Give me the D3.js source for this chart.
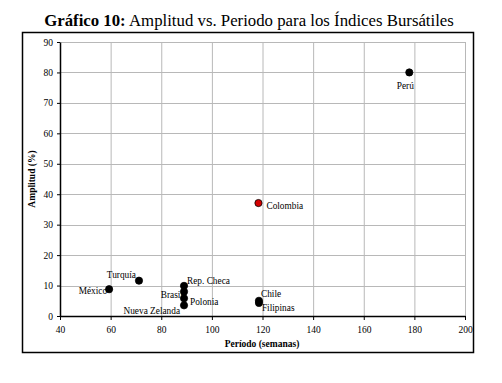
<!DOCTYPE html>
<html><head><meta charset="utf-8">
<script src="https://cdn.jsdelivr.net/npm/d3@7"></script>
<style>body{margin:0;background:#fff}svg{display:block}</style>
</head><body><svg id="c" width="502" height="383"></svg>
<script>
const countries = ["Perú","Colombia","Chile","Filipinas","Turquía","México","Rep. Checa","Brasil","Polonia","Nueva Zelanda"];
const periodo = [178, 118.4, 118.6, 118.6, 71.2, 59.4, 89, 89, 89, 89];
const amplitud = [80, 37.1, 5.0, 4.3, 11.6, 8.8, 9.9, 8.0, 5.8, 3.5];
const xTicks = [40,60,80,100,120,140,160,180,200];
const yTicks = [0,10,20,30,40,50,60,70,80,90];
const highlight = "Colombia";

// label placement (dx, dy, anchor)
const labelPos = {
  "Perú":[-4,14,"middle"], "Colombia":[8,4,"start"], "Chile":[2,-6,"start"],
  "Filipinas":[3,6,"start"], "Turquía":[-3,-5,"end"], "México":[-2,3,"end"],
  "Rep. Checa":[3,-4,"start"], "Brasil":[-1,4,"end"], "Polonia":[6,5,"start"],
  "Nueva Zelanda":[-4,7,"end"]
};

const svg = d3.select("#c");
const font = "Liberation Serif, Times New Roman, serif";
const L=60,R=465,T=42,B=316;
const x = d3.scaleLinear().domain([40,200]).range([L,R]);
const y = d3.scaleLinear().domain([0,90]).range([B,T]);

// title
const title = svg.append("text").attr("x",249).attr("y",26).attr("text-anchor","middle")
  .style("font-family",font).attr("font-size",16.8).attr("fill","#000");
title.append("tspan").attr("font-weight","bold").text("Gráfico 10:");
title.append("tspan").text(" Amplitud vs. Periodo para los Índices Bursátiles");

// outer box
svg.append("rect").attr("x",22.5).attr("y",32.5).attr("width",451).attr("height",320)
  .attr("fill","none").attr("stroke","#000").attr("stroke-width",1.5);

// grid
svg.append("g").selectAll("line").data(xTicks.filter(d=>d>40)).join("line")
  .attr("x1",d=>x(d)+0.5).attr("x2",d=>x(d)+0.5).attr("y1",T).attr("y2",B)
  .attr("stroke","#b8b8b8").attr("stroke-width",1);
svg.append("g").selectAll("line").data(yTicks.filter(d=>d>0)).join("line")
  .attr("y1",d=>Math.round(y(d))+0.5).attr("y2",d=>Math.round(y(d))+0.5).attr("x1",L).attr("x2",R)
  .attr("stroke","#b8b8b8").attr("stroke-width",1);

// axes
const xa = svg.append("g").attr("transform",`translate(0,${B})`)
  .call(d3.axisBottom(x).tickValues(xTicks).tickSize(4).tickPadding(6).tickSizeOuter(0));
const ya = svg.append("g").attr("transform",`translate(${L},0)`)
  .call(d3.axisLeft(y).tickValues(yTicks).tickSize(3).tickPadding(4).tickSizeOuter(0));
[xa,ya].forEach(a=>{
  a.attr("font-family",null);
  a.select(".domain").attr("stroke","#000").attr("stroke-width",1.5);
  a.selectAll(".tick line").attr("stroke","#000").attr("stroke-width",1);
  a.selectAll("text").style("font-family",font).attr("font-size",9.5).attr("fill","#000");
});

// axis titles
svg.append("text").attr("x",262).attr("y",347).attr("text-anchor","middle")
  .style("font-family",font).attr("font-size",9.5).attr("font-weight","bold").text("Período (semanas)");
svg.append("text").attr("transform","translate(35,179) rotate(-90)").attr("text-anchor","middle")
  .style("font-family",font).attr("font-size",9.5).attr("font-weight","bold").text("Amplitud (%)");

// points
const data = countries.map((c,i)=>({c,px:periodo[i],a:amplitud[i]}));
svg.append("g").selectAll("circle").data(data).join("circle")
  .attr("cx",d=>x(d.px)).attr("cy",d=>y(d.a)).attr("r",3.6)
  .attr("fill",d=>d.c===highlight?"#d40000":"#000").attr("stroke","#000").attr("stroke-width",0.8);

svg.append("g").selectAll("text").data(data).join("text")
  .attr("x",d=>x(d.px)+labelPos[d.c][0]).attr("y",d=>y(d.a)+labelPos[d.c][1])
  .attr("text-anchor",d=>labelPos[d.c][2]).attr("dominant-baseline","middle")
  .style("font-family",font).attr("font-size",9.3).attr("fill","#000").text(d=>d.c);
</script></body></html>
